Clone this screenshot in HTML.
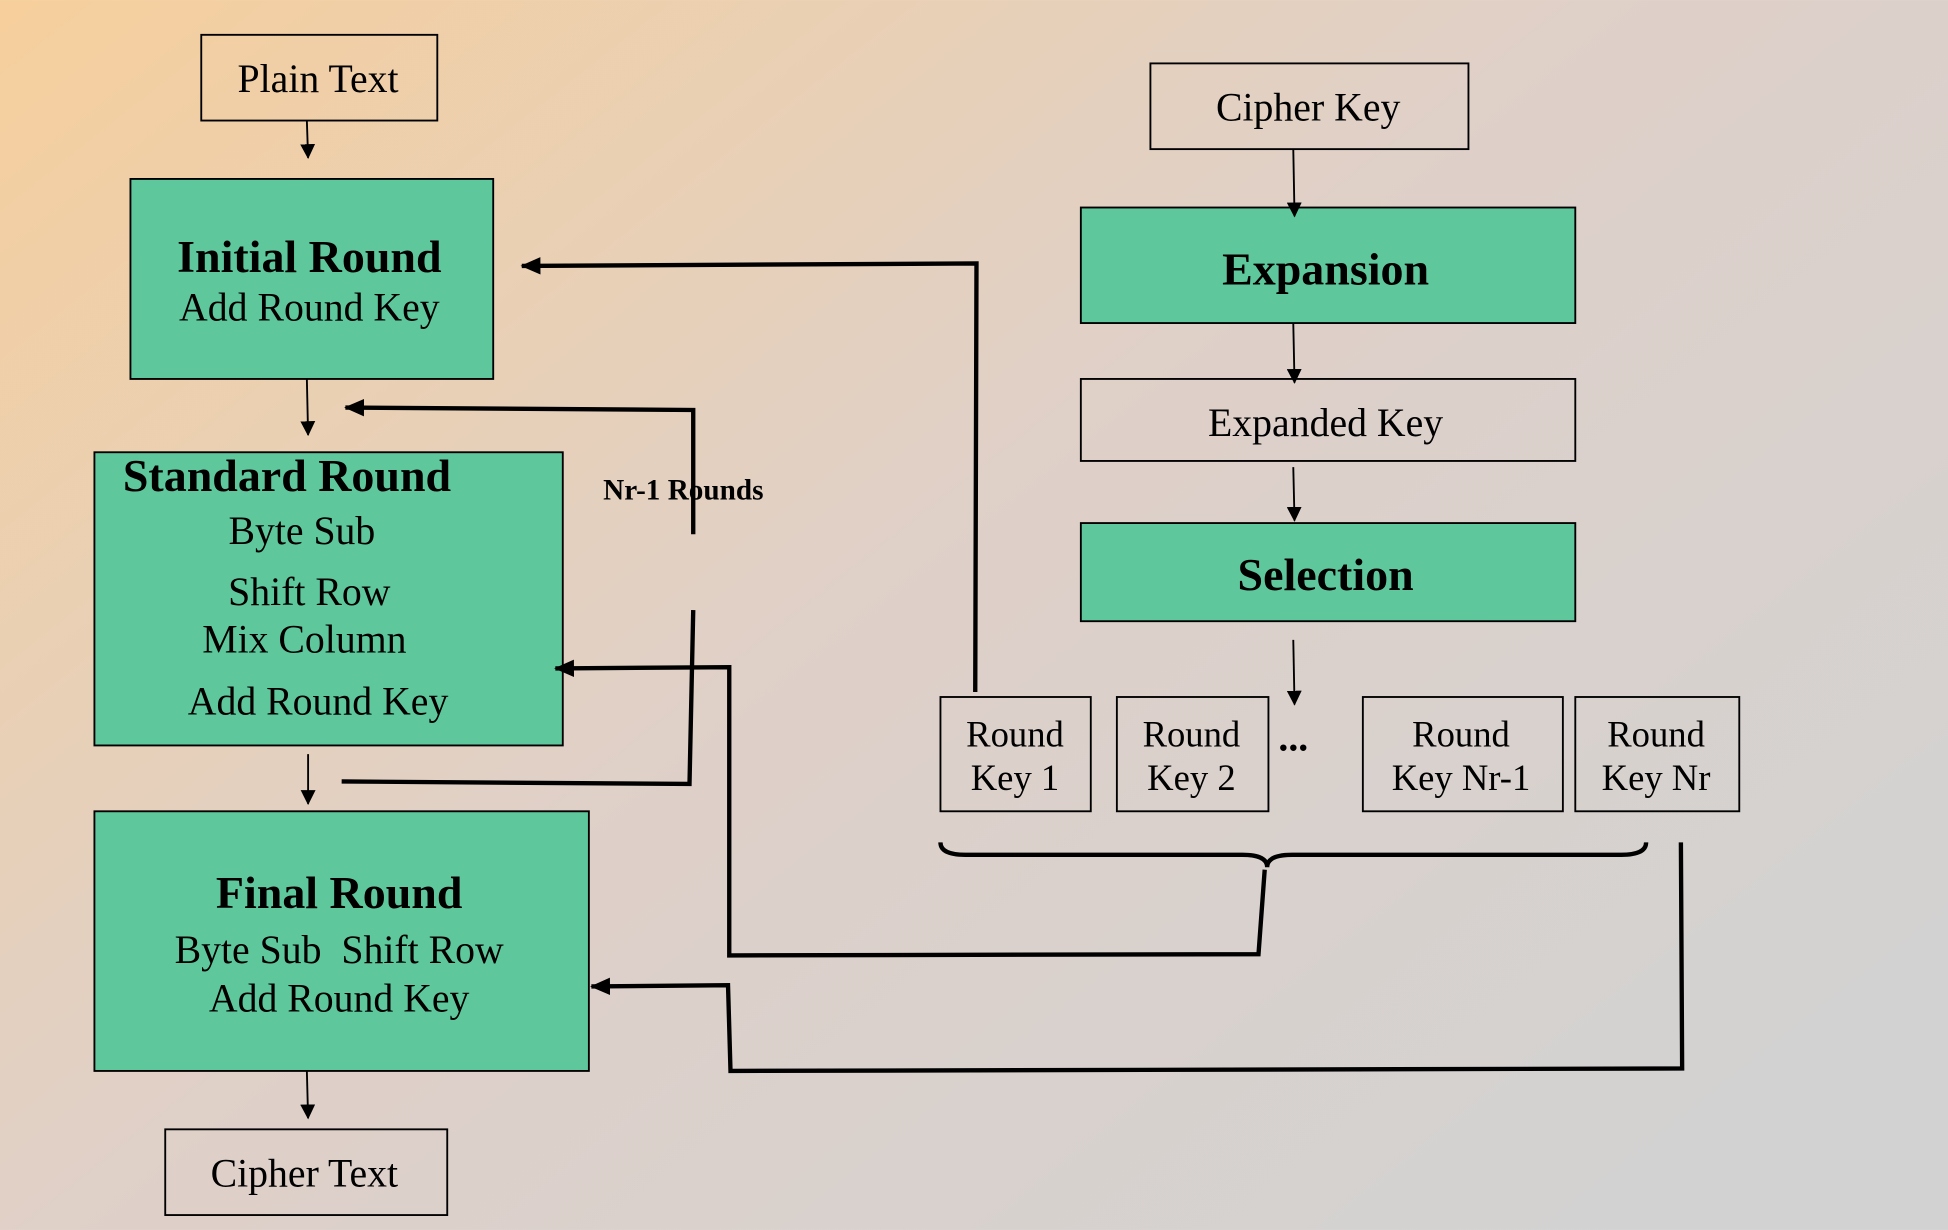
<!DOCTYPE html>
<html><head><meta charset="utf-8"><style>
html,body{margin:0;padding:0;width:1948px;height:1230px;overflow:hidden}
svg{display:block}
text{font-family:"Liberation Serif",serif;fill:#000}
</style></head><body>
<svg width="1948" height="1230" viewBox="0 0 1568 990" xmlns="http://www.w3.org/2000/svg">
<defs>
<linearGradient id="bg" x1="0" y1="0" x2="1" y2="0.8">
<stop offset="0" stop-color="#f6cf9c"/>
<stop offset="0.5" stop-color="#dfd0c8"/>
<stop offset="1" stop-color="#d2d2d2"/>
</linearGradient>
<marker id="ah" markerWidth="12" markerHeight="12" refX="11" refY="6" orient="auto" markerUnits="userSpaceOnUse">
<path d="M0,0 L12,6 L0,12 z" fill="#000"/></marker>
<marker id="ahb" markerWidth="16" markerHeight="14" refX="15" refY="7" orient="auto" markerUnits="userSpaceOnUse">
<path d="M0,0 L16,7 L0,14 z" fill="#000"/></marker>
</defs>
<rect width="1568" height="990" fill="url(#bg)"/>
<g stroke="#000" stroke-width="1.5">
<rect x="162" y="28" width="190" height="69" fill="none"/>
<rect x="105" y="144" width="292" height="161" fill="#5ec89c"/>
<rect x="76" y="364" width="377" height="236" fill="#5ec89c"/>
<rect x="76" y="653" width="398" height="209" fill="#5ec89c"/>
<rect x="133" y="909" width="227" height="69" fill="none"/>
<rect x="926" y="51" width="256" height="69" fill="none"/>
<rect x="870" y="167" width="398" height="93" fill="#5ec89c"/>
<rect x="870" y="305" width="398" height="66" fill="none"/>
<rect x="870" y="421" width="398" height="79" fill="#5ec89c"/>
<rect x="757" y="561" width="121" height="92" fill="none"/>
<rect x="899" y="561" width="122" height="92" fill="none"/>
<rect x="1097" y="561" width="161" height="92" fill="none"/>
<rect x="1268" y="561" width="132" height="92" fill="none"/>
</g>
<g stroke="#000" stroke-width="1.5" marker-end="url(#ah)">
<line x1="247" y1="97" x2="248" y2="127"/>
<line x1="247" y1="305" x2="248" y2="350"/>
<line x1="248" y1="607" x2="248" y2="647"/>
<line x1="247" y1="862" x2="248" y2="900"/>
<line x1="1041" y1="120" x2="1042" y2="174"/>
<line x1="1041" y1="260" x2="1042" y2="308"/>
<line x1="1041" y1="376" x2="1042" y2="419"/>
<line x1="1041" y1="515" x2="1042" y2="567"/>
</g>
<g stroke="#000" stroke-width="3.5" fill="none">
<path d="M785,557 L786,212 L420,214" marker-end="url(#ahb)"/>
<path d="M275,629 L555,631 L558,491"/>
<path d="M558,430 L558,330 L278,328" marker-end="url(#ahb)"/>
<path d="M1018,700 L1013,768 L587,769 L587,537 L447,538" marker-end="url(#ahb)"/>
<path d="M1353,678 L1354,860 L588,862 L586,793 L476,794" marker-end="url(#ahb)"/>
<path d="M757,678 Q757,688 777,688 L1000,688 Q1020,688 1020,698 Q1020,688 1040,688 L1305,688 Q1325,688 1325,678"/>
</g>
<g text-anchor="middle" font-size="32">
<text x="256" y="74">Plain Text</text>
<text x="249" y="219" font-weight="bold" font-size="37">Initial Round</text>
<text x="249" y="258">Add Round Key</text>
<text x="231" y="395" font-weight="bold" font-size="37">Standard Round</text>
<text x="243" y="438">Byte Sub</text>
<text x="249" y="487">Shift Row</text>
<text x="245" y="525">Mix Column</text>
<text x="256" y="575">Add Round Key</text>
<text x="273" y="731" font-weight="bold" font-size="37">Final Round</text>
<text x="273" y="775" xml:space="preserve">Byte Sub  Shift Row</text>
<text x="273" y="814">Add Round Key</text>
<text x="245" y="955">Cipher Text</text>
<text x="1053" y="97">Cipher Key</text>
<text x="1067" y="229" font-weight="bold" font-size="37">Expansion</text>
<text x="1067" y="351">Expanded Key</text>
<text x="1067" y="475" font-weight="bold" font-size="37">Selection</text>
<g font-size="29.5">
<text x="817" y="601">Round</text><text x="817" y="636">Key 1</text>
<text x="959" y="601">Round</text><text x="959" y="636">Key 2</text>
<text x="1176" y="601">Round</text><text x="1176" y="636">Key Nr-1</text>
<text x="1333" y="601">Round</text><text x="1333" y="636">Key Nr</text>
</g>
<text x="1041" y="604" font-weight="bold" font-size="32">...</text>
<text x="550" y="402" font-weight="bold" font-size="23.5">Nr-1 Rounds</text>
</g>
</svg>
</body></html>
